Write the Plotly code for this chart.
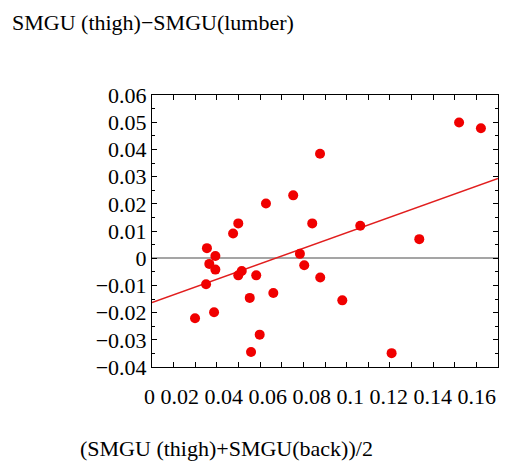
import plotly.graph_objects as go

# Data
x_vals = [0.0254, 0.0293, 0.0265, 0.0293, 0.0250, 0.0199, 0.0287, 0.0375, 0.0399,
          0.0399, 0.0415, 0.0482, 0.0452, 0.0561, 0.0498, 0.0458, 0.0527, 0.0653,
          0.0684, 0.0704, 0.0741, 0.0777, 0.0778, 0.0880, 0.0963, 0.1108, 0.1236,
          0.1420, 0.1521]
y_vals = [0.0037, 0.0008, -0.0021, -0.0042, -0.0096, -0.0221, -0.0199, 0.0091, 0.0128,
          -0.0063, -0.0047, -0.0063, -0.0146, -0.0128, -0.0281, -0.0345, 0.0201, 0.0231,
          0.0016, -0.0026, 0.0128, 0.0384, -0.0071, -0.0155, 0.0119, -0.0349, 0.0070,
          0.0499, 0.0478]

fit_x = [0.0, 0.16]
fit_y = [-0.0163, 0.0293]

x_tick_labels = ["0", "0.02", "0.04", "0.06", "0.08", "0.1", "0.12", "0.14", "0.16"]
y_tick_vals = [-0.04, -0.03, -0.02, -0.01, 0, 0.01, 0.02, 0.03, 0.04, 0.05, 0.06]
y_tick_text = ["\u22120.04", "\u22120.03", "\u22120.02", "\u22120.01", "0",
               "0.01", "0.02", "0.03", "0.04", "0.05", "0.06"]

title_text = "SMGU (thigh)\u2212SMGU(lumber)"
xlabel_text = "(SMGU (thigh)+SMGU(back))/2"

FONT = "Liberation Serif, Times New Roman, serif"

fig = go.Figure()
fig.add_trace(go.Scatter(x=fit_x, y=fit_y, mode="lines",
                         line=dict(color="rgb(225,30,30)", width=1.4),
                         showlegend=False, hoverinfo="skip"))
fig.add_trace(go.Scatter(x=x_vals, y=y_vals, mode="markers",
                         marker=dict(color="rgb(240,0,0)", size=10, line=dict(width=0)),
                         showlegend=False))

PW, PH = 346, 272
fig.update_layout(
    width=507, height=462,
    margin=dict(l=152, r=9, t=95, b=95),
    paper_bgcolor="white", plot_bgcolor="white",
    font=dict(family=FONT, size=22, color="black"),
    annotations=[
        dict(text=title_text, xref="paper", yref="paper", x=(10 - 152) / PW,
             y=1 + (95 - 22) / PH,
             xanchor="left", yanchor="middle", showarrow=False,
             font=dict(family=FONT, size=22, color="black")),
        dict(text=" ".join(x_tick_labels), xref="paper", yref="paper",
             x=(320 - 152) / PW, y=-(396 - 367) / PH,
             xanchor="center", yanchor="middle", showarrow=False,
             font=dict(family=FONT, size=22, color="black")),
        dict(text=xlabel_text, xref="paper", yref="paper", x=(78 - 152) / PW,
             y=-(448 - 367) / PH, xanchor="left", yanchor="middle", showarrow=False,
             font=dict(family=FONT, size=22, color="black")),
    ],
)

fig.update_xaxes(
    range=[0, 0.16], showgrid=False, zeroline=False, automargin=False,
    showline=True, linecolor="black", linewidth=1, mirror="allticks",
    ticks="inside", ticklen=5, tickcolor="black", tick0=0, dtick=0.01,
    showticklabels=False,
)
fig.update_yaxes(
    range=[-0.04, 0.06], showgrid=False, automargin=False,
    zeroline=True, zerolinecolor="rgb(165,165,165)", zerolinewidth=2,
    showline=True, linecolor="black", linewidth=1, mirror="allticks",
    ticks="inside", ticklen=5, tickcolor="black",
    tickvals=y_tick_vals, ticktext=y_tick_text,
    tickfont=dict(family=FONT, size=22, color="black"),
    ticklabelstandoff=0,
    minor=dict(ticks="inside", ticklen=3, tickcolor="black", dtick=0.005, tick0=0),
)

fig.write_html(
    "out.html",
    config={"displayModeBar": False},
    post_script="document.body.style.margin='0';document.body.style.overflow='hidden';",
)
